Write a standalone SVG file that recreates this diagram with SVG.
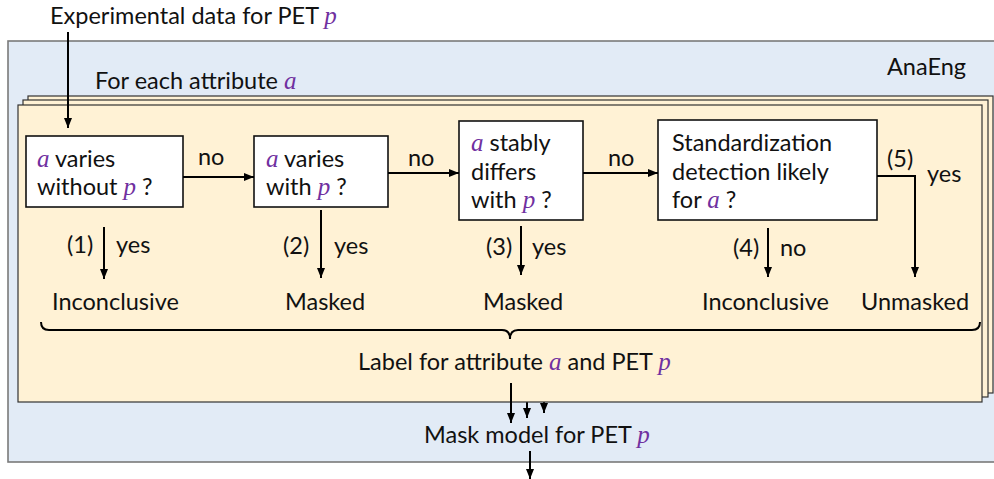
<svg xmlns="http://www.w3.org/2000/svg" width="994" height="479" viewBox="0 0 994 479">
<style>
text{font-family:Lato,"Open Sans","Liberation Sans",sans-serif;font-size:23.5px;fill:#111}
.v{font-family:"Liberation Serif","DejaVu Serif",serif;font-style:italic;fill:#7030A0;font-size:25px}
.box{fill:#fff;stroke:#111;stroke-width:1.6}
.layer{fill:#FFF2D5;stroke:#333;stroke-width:1.2}
.ln{stroke:#000;stroke-width:2;fill:none}
</style>
<defs>
<marker id="ah" markerWidth="10" markerHeight="10" viewBox="0 0 10 10" refX="10" refY="5" orient="auto" markerUnits="userSpaceOnUse">
<path d="M0,1 L10,5 L0,9 Z" fill="#000"/>
</marker>
</defs>

<g id="anaeng">
<rect x="8" y="41" width="1000" height="421" fill="#E2EBF6" stroke="#7a7a7a" stroke-width="1.6"/>
<text x="887" y="75">AnaEng</text>
<text x="95" y="89">For each attribute <tspan class="v">a</tspan></text>
</g>

<g id="title">
<text x="50" y="24">Experimental data for PET <tspan class="v">p</tspan></text>
</g>

<g id="connectors-back">
<line class="ln" x1="544" y1="393" x2="544" y2="413" marker-end="url(#ah)"/>
<line class="ln" x1="527" y1="397" x2="527" y2="418" marker-end="url(#ah)"/>
</g>

<g id="stack">
<rect class="layer" x="28" y="96" width="965" height="297" stroke="#777"/>
<rect class="layer" x="23" y="100" width="965" height="297" stroke="#555"/>
<rect class="layer" x="18" y="105" width="964" height="297"/>
</g>

<g id="q1">
<rect class="box" x="26" y="136" width="157" height="71"/>
<text x="37" y="167"><tspan class="v">a</tspan> varies</text>
<text x="37" y="195">without <tspan class="v">p</tspan> ?</text>
</g>
<g id="q2">
<rect class="box" x="254" y="136" width="134" height="71"/>
<text x="266" y="167"><tspan class="v">a</tspan> varies</text>
<text x="266" y="195">with <tspan class="v">p</tspan> ?</text>
</g>
<g id="q3">
<rect class="box" x="459" y="121" width="124" height="99"/>
<text x="471" y="151"><tspan class="v">a</tspan> stably</text>
<text x="471" y="180">differs</text>
<text x="471" y="208">with <tspan class="v">p</tspan> ?</text>
</g>
<g id="q4">
<rect class="box" x="658" y="120" width="219" height="100"/>
<text x="672" y="151">Standardization</text>
<text x="672" y="180">detection likely</text>
<text x="672" y="208">for <tspan class="v">a</tspan> ?</text>
</g>

<g id="outcomes">
<text x="52" y="310">Inconclusive</text>
<text x="285" y="310">Masked</text>
<text x="483" y="310">Masked</text>
<text x="702" y="310">Inconclusive</text>
<text x="861" y="310">Unmasked</text>
</g>

<g id="label">
<text x="358" y="370">Label for attribute <tspan class="v">a</tspan> and PET <tspan class="v">p</tspan></text>
</g>
<g id="mask">
<text x="424" y="443">Mask model for PET <tspan class="v">p</tspan></text>
</g>

<g id="connectors">
<line class="ln" x1="68" y1="32" x2="68" y2="128" marker-end="url(#ah)"/>
<line class="ln" x1="183" y1="177" x2="254" y2="177" marker-end="url(#ah)"/>
<text x="198" y="165">no</text>
<line class="ln" x1="388" y1="173" x2="459" y2="173" marker-end="url(#ah)"/>
<text x="408" y="166">no</text>
<line class="ln" x1="583" y1="173" x2="658" y2="173" marker-end="url(#ah)"/>
<text x="608" y="166">no</text>
<polyline class="ln" points="877,176 915,176 915,277" marker-end="url(#ah)"/>
<text x="887" y="167">(5)</text>
<text x="927" y="182">yes</text>

<line class="ln" x1="104" y1="227" x2="104" y2="279" marker-end="url(#ah)"/>
<text x="67" y="253">(1)</text>
<text x="116" y="253">yes</text>
<line class="ln" x1="321" y1="210" x2="321" y2="278" marker-end="url(#ah)"/>
<text x="283" y="254">(2)</text>
<text x="334" y="254">yes</text>
<line class="ln" x1="521" y1="226" x2="521" y2="275" marker-end="url(#ah)"/>
<text x="486" y="255">(3)</text>
<text x="532" y="255">yes</text>
<line class="ln" x1="768" y1="228" x2="768" y2="277" marker-end="url(#ah)"/>
<text x="733" y="256">(4)</text>
<text x="780" y="256">no</text>

<path class="ln" d="M41,322 Q41,330 49,330 L502,330 Q510,330 510,339 Q510,330 518,330 L972,330 Q980,330 980,322" stroke-width="1.6"/>

<line class="ln" x1="511" y1="383" x2="511" y2="423" marker-end="url(#ah)"/>
<line class="ln" x1="530" y1="451" x2="530" y2="479" marker-end="url(#ah)"/>
</g>
</svg>
